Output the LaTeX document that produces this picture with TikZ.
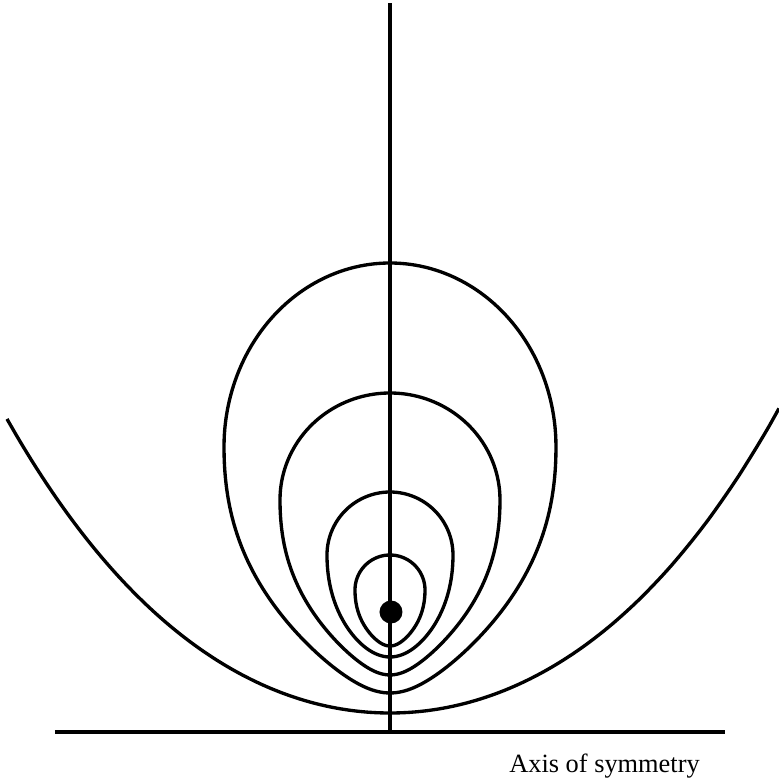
\documentclass[tikz,border=0pt]{standalone}
\usepackage{fontspec}
\setmainfont{Liberation Serif}
\usepackage{tikz}
\usetikzlibrary{positioning}

\begin{document}
\begin{tikzpicture}[curve/.style={line width=1.9pt}, line join=round]
	\useasboundingbox (-7.8,-0.94) rectangle (7.78,14.64);
	\coordinate (axisBase) at (0,0);
	\coordinate (axisTop) at (0,14.58);
	\coordinate (lineLeft) at (-6.7,0);
	\coordinate (lineRight) at (6.7,0);
	\draw[curve] (lineLeft) -- (lineRight);
	\draw[curve] (axisBase) -- (axisTop);
	% outer curve
	\draw[curve] plot[domain=-7.66:7.78, samples=80, smooth] (\x, {0.38+0.085*\x*\x+0.0002625*\x*\x*\x*\x});
	% closed curves round the point: half width/centre/top/bottom/point
	\foreach \a/\yc/\bt/\bb/\k in {3.32/5.70/3.68/4.92/0.33, 2.2/4.64/2.14/3.5/0.33, 1.26/3.54/1.26/2.04/0.1, 0.70/2.84/0.70/1.12/0.2}{
		\draw[curve] plot[domain=-90:90, samples=61, smooth] ({\a*sin(\x)*(1-\k*cos(\x)*cos(\x)*cos(\x))}, {\yc-\bb*cos(\x)})
			-- plot[domain=90:270, samples=61, smooth] ({\a*sin(\x)}, {\yc-\bt*cos(\x)}) -- cycle;
	}
	\node[circle, fill, inner sep=0, minimum size=0.46cm] (charge) at (0.02,2.4) {};
	\node[anchor=base west, inner sep=0, font=\fontsize{15}{18}\selectfont] (axisLabel) at (2.38,-0.8) {Axis of symmetry};
\end{tikzpicture}
\end{document}
